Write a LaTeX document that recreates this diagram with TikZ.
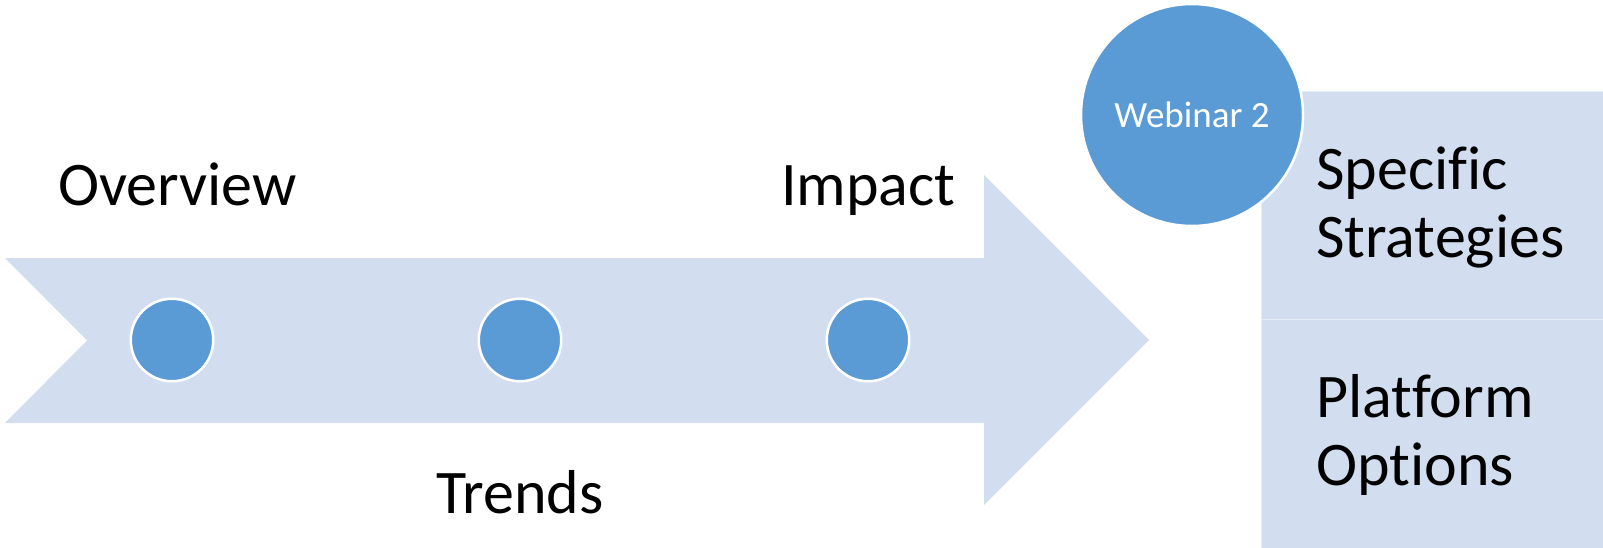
\documentclass[tikz,border=0pt]{standalone}
\usepackage{fontspec}
\setmainfont{Carlito}[Ligatures={NoCommon}]
\definecolor{pale}{HTML}{D2DEEF}
\definecolor{dot}{HTML}{5B9BD5}
\begin{document}
\begin{tikzpicture}[x=1pt,y=-1pt,
  lbl/.style={font=\fontsize{62}{68.5}\selectfont, inner sep=0pt, text=black, align=left},
  dotc/.style={circle, fill=dot, draw=white, line width=2.5pt, minimum size=82.5pt, inner sep=0pt},
  bigc/.style={circle, fill=dot, draw=white, line width=2.5pt, minimum size=222pt, inner sep=0pt,
               text=white, font=\fontsize{37}{40}\selectfont},
  panel/.style={fill=pale, draw=white!45!pale, line width=1pt}]
\useasboundingbox (0,0) rectangle (1603,548);
% main arrow
\fill[pale] (5,258) -- (984,258) -- (984,175) -- (1149,340) -- (984,505) -- (984,423)
  -- (5,423) -- (87,340.5) -- cycle;
% dots on the arrow
\node[dotc] (d1) at (172,340) {};
\node[dotc] (d2) at (520,340) {};
\node[dotc] (d3) at (868,340) {};
% panels
\draw[panel] (1261,92) rectangle (1615,319.5);
\draw[panel] (1261,319.5) rectangle (1615,560);
% webinar circle
\node[bigc] (web) at (1192,115) {Webinar 2};
% labels
\node[lbl, anchor=base west] (ov) at (58,205) {Overview};
\node[lbl, anchor=base west] (im) at (781,205) {Impact};
\node[lbl, anchor=base west] (tr) at (436,513) {Trends};
\node[lbl, anchor=base west] (ss) at (1316,257.5) {Specific\\Strategies};
\node[lbl, anchor=base west] (po) at (1316,485.5) {Platform\\Options};
\end{tikzpicture}
\end{document}
